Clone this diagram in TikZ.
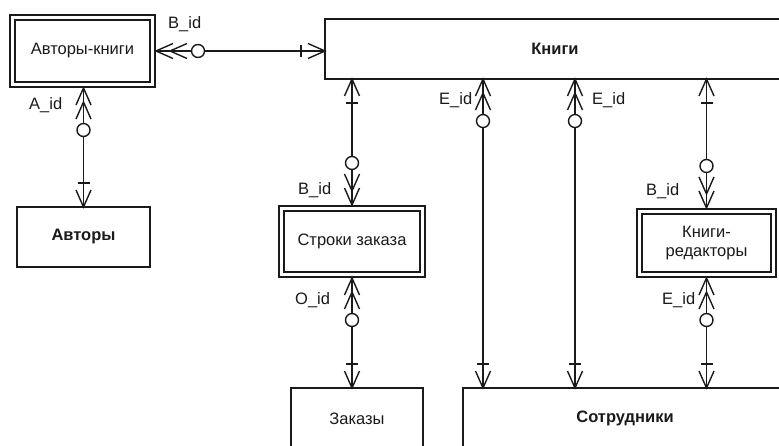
\documentclass[tikz,border=0pt]{standalone}
\usepackage{fontspec}
\setmainfont{Liberation Sans}
\usetikzlibrary{decorations.markings}
\definecolor{ink}{HTML}{1A1A1A}
\begin{document}
\begin{tikzpicture}[x=1pt,y=-1pt,
  ent/.style={draw=ink, line width=1.7pt, inner sep=2pt, outer sep=0pt, align=center,
    font=\fontsize{16.5}{19}\selectfont, text=ink},
  bent/.style={ent, font=\fontsize{16.5}{19}\selectfont\bfseries},
  dent/.style={ent, double, double distance=3.2pt, line width=1.7pt, outer sep=3.3pt},
  lab/.style={anchor=base west, inner sep=0pt, font=\fontsize{16.5}{19}\selectfont, text=ink},
  rel/.style={draw=ink, line width=1.4pt, postaction={decorate},
    decoration={markings,
      mark=at position 0 with {
        \draw[draw=ink, line width=1.4pt] (17pt,7.5pt) -- (0pt,0pt) -- (17pt,-7.5pt);
        \draw[draw=ink, line width=1.4pt] (24pt,6pt) -- (24pt,-6pt);},
      mark=at position 0.9999 with {
        \draw[draw=ink, line width=1.4pt] (-17pt,7.5pt) -- (0pt,0pt) -- (-17pt,-7.5pt);
        \draw[draw=ink, line width=1.4pt] (-31pt,7.5pt) -- (-14pt,0pt) -- (-31pt,-7.5pt);
        \draw[draw=ink, line width=1.4pt, fill=white] (-42pt,0pt) circle (6.5pt);}}}
]
\path[use as bounding box, clip] (0,0) rectangle (779,446);
\fill[white] (0,0) rectangle (779,446);

% entities
\node[dent, minimum width=140.4pt, minimum height=67.4pt] (AK) at (82.5,51) {Авторы-книги};
\node[bent, minimum width=133pt, minimum height=60pt] (A) at (83.5,237) {Авторы};
\node[bent, minimum width=460pt, minimum height=60pt] (K) at (555,49) {Книги};
\node[dent, minimum width=141.4pt, minimum height=66.4pt] (SZ) at (352,241.5) {Строки заказа};
\node[dent, minimum width=134.4pt, minimum height=63.4pt] (KR) at (706.5,243) {Книги-\\редакторы};
\node[ent, minimum width=132pt, minimum height=61pt] (Z) at (357,418.5) {Заказы};
\node[bent, minimum width=324pt, minimum height=61pt] (S) at (625,418.5) {Сотрудники};

\coordinate (e1) at (483,0);
\coordinate (e2) at (575,0);

% relationships: start = "one" side, end = "zero or many" side
\draw[rel] (AK.east -| K.west) -- (AK.east);
\draw[rel] (A.north) -- (A.north |- AK.south);
\draw[rel] (K.south -| SZ.north) -- (SZ.north);
\draw[rel] (Z.north -| SZ.south) -- (SZ.south);
\draw[rel] (S.north -| e1) -- (K.south -| e1);
\draw[rel] (S.north -| e2) -- (K.south -| e2);
\draw[rel] (K.south -| KR.north) -- (KR.north);
\draw[rel] (S.north -| KR.south) -- (KR.south);

% key labels
\node[lab] (l1) at (168,29) {B\_id};
\node[lab] (l2) at (29,110) {A\_id};
\node[lab] (l3) at (439,105) {E\_id};
\node[lab] (l4) at (592,105) {E\_id};
\node[lab] (l5) at (298,195) {B\_id};
\node[lab] (l6) at (295,305) {O\_id};
\node[lab] (l7) at (646,196) {B\_id};
\node[lab] (l8) at (662,305) {E\_id};
\end{tikzpicture}
\end{document}
